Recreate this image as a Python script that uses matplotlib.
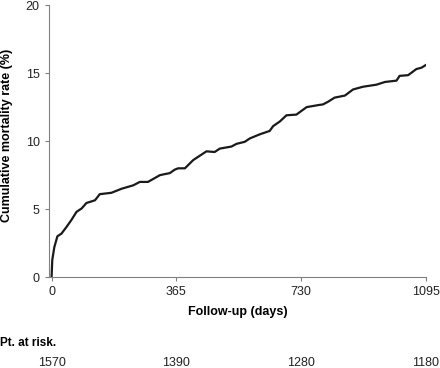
import numpy as np
import matplotlib
matplotlib.use('Agg')
import matplotlib.pyplot as plt

plt.rcParams['font.family'] = ['Liberation Sans', 'DejaVu Sans']

# cumulative mortality (%)
days = [0, 2, 8, 17, 29, 44, 58, 73, 88, 102, 127, 141, 175, 205, 239, 258, 282,
        317, 346, 360, 370, 390, 414, 453, 477, 492, 526, 541, 565, 580, 609,
        638, 648, 668, 687, 716, 746, 780, 794, 809, 828, 858, 882, 911, 950,
        975, 1009, 1018, 1043, 1067, 1082, 1095]
mortality = [0, 1.25, 2.2, 3.0, 3.2, 3.7, 4.2, 4.8, 5.05, 5.45, 5.65, 6.1, 6.2,
             6.5, 6.75, 7.0, 7.0, 7.5, 7.65, 7.9, 8.0, 8.0, 8.6, 9.25, 9.2, 9.45,
             9.6, 9.8, 9.95, 10.2, 10.5, 10.75, 11.1, 11.45, 11.9, 11.95, 12.5,
             12.65, 12.7, 12.9, 13.2, 13.35, 13.8, 14.0, 14.15, 14.35, 14.45,
             14.8, 14.85, 15.3, 15.4, 15.6]

tick_days = [0, 365, 730, 1095]
at_risk = [1570, 1390, 1280, 1180]

fig = plt.figure(figsize=(4.4, 3.68), dpi=100)
ax = fig.add_axes([0.111, 0.247, 0.857, 0.739])

ax.plot(days, mortality, color='#1a1a1a', lw=1.6)

ax.set_xlim(-8, 1095)
ax.set_ylim(0, 20)
ax.set_xticks(tick_days)
ax.set_yticks([0, 5, 10, 15, 20])
ax.spines['top'].set_visible(False)
ax.spines['right'].set_visible(False)
for s in ['left', 'bottom']:
    ax.spines[s].set_color('#808080')
ax.tick_params(colors='#808080', labelcolor='#222222', labelsize=9, length=3)

ax.set_xlabel('Follow-up (days)', fontsize=9, fontweight='bold', labelpad=6)
ax.set_ylabel('Cumulative mortality rate (%)', fontsize=9, fontweight='bold', labelpad=9)
ax.yaxis.set_label_coords(-0.095, 0.52)

fig.text(0.0, 1 - 343/368, 'Pt. at risk.', fontsize=8.5, fontweight='bold', va='center')
for d, n in zip(tick_days, at_risk):
    xf = fig.transFigure.inverted().transform(ax.transData.transform((d, 0)))[0]
    fig.text(xf, 1 - 363/368, str(n), fontsize=9, ha='center', va='center', color='#222222')

plt.savefig('out.png', dpi=100)
